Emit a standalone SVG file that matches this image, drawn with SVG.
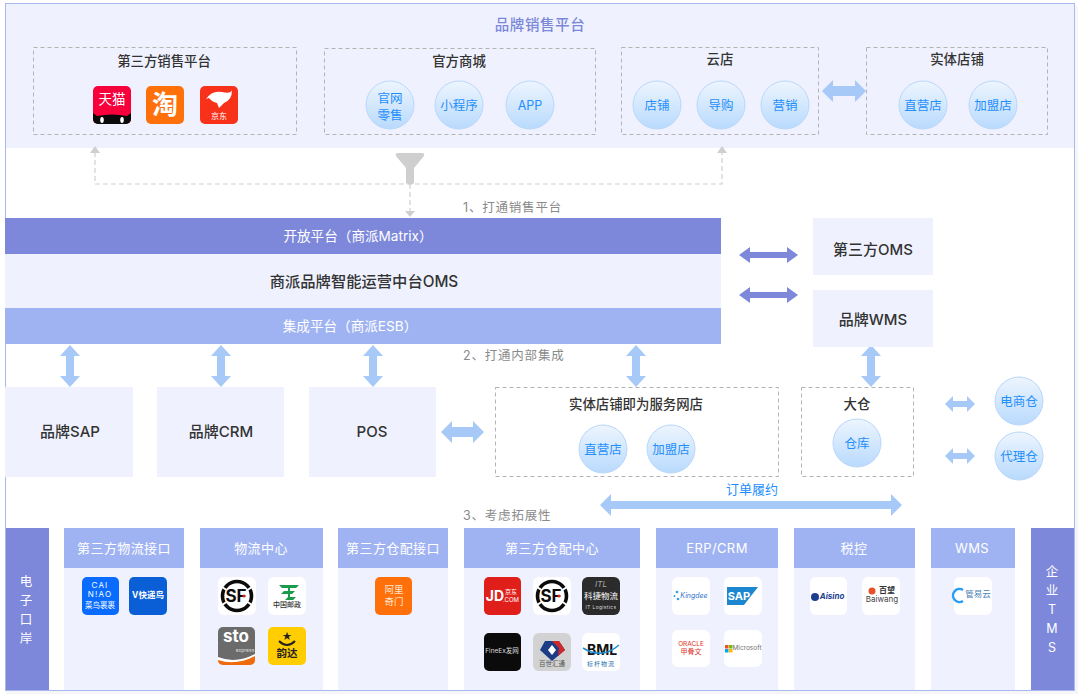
<svg xmlns="http://www.w3.org/2000/svg" width="1080" height="698" viewBox="0 0 1080 698">
<style>
text{font-family:"Inter","Noto Sans CJK SC",sans-serif;text-anchor:middle;dominant-baseline:central;transform:translateY(-1px)}
.t{font-size:13.4px;fill:#333;font-weight:500}
.b{font-size:15px;fill:#333;font-weight:500}
.c{font-size:12.5px;fill:#1f8ffb;transform:none}
.w{font-size:12.5px;fill:#fff;transform:none}
.w2{font-size:13.6px;fill:#fff}
.h{font-size:13px;fill:#fff;letter-spacing:.4px;transform:none}
.n{font-size:12.5px;fill:#8a8a8a;text-anchor:start;letter-spacing:.8px}
.d{fill:none;stroke:#b4b4b4;stroke-width:1;stroke-dasharray:4 3}
.g{fill:none;stroke:#cfcfcf;stroke-width:1.2;stroke-dasharray:5 3}
.la{fill:#a6c9f7}.da{fill:#7d88da}
.cir{fill:url(#cg);stroke:#b9d7fb;stroke-width:1}
.p{fill:#eff2fe}.dk{fill:#7d88da}.md{fill:#9fb3f2}
.ic{fill:#fff}
</style>
<defs>
<linearGradient id="cg" x1="0" y1="0" x2="0" y2="1"><stop offset="0" stop-color="#edf5fe"/><stop offset="1" stop-color="#b9dafd"/></linearGradient>
<clipPath id="tm"><rect x="93" y="86" width="38" height="38" rx="5"/></clipPath>
<clipPath id="sto"><rect x="218" y="627" width="37" height="38" rx="5"/></clipPath>
<g id="sf">
<rect width="38" height="38" rx="6" fill="#fff"/>
<circle cx="19" cy="19" r="14.500" fill="none" stroke="#0b0b0b" stroke-width="3.600"/>
<path d="M4 10L10 14M34 10L28 14M4 28L10 24M34 28L28 24" stroke="#fff" stroke-width="2"/>
<text x="18" y="19.500" font-size="17" font-weight="700" fill="#0b0b0b">SF</text>
<circle cx="26" cy="19" r="1.500" fill="#e2231a"/>
</g>
</defs>
<rect width="1080" height="698" fill="#fff"/>
<rect x="6" y="691" width="1072" height="3" fill="#f6f6f8"/>
<rect x="1075" y="6" width="3" height="688" fill="#f6f6f8"/>
<rect x="5.500" y="3.500" width="1069" height="687" fill="#fff" stroke="#a9b9f0" stroke-width="1"/>

<g id="brand-band">
<rect class="p" x="6" y="4" width="1068" height="144"/>
<text x="540" y="25" font-size="14.500" font-weight="500" fill="#7b88d9" letter-spacing=".6">品牌销售平台</text>
</g>

<g id="third-party-sales">
<rect class="d" x="33.500" y="47.500" width="263" height="87"/>
<text class="t" x="164" y="62">第三方销售平台</text>
<g>
<rect x="93" y="86" width="38" height="38" rx="5" fill="#f7003b"/>
<g clip-path="url(#tm)">
<path d="M93 124V113L97 116Q112 113 127 116L131 113V124Z" fill="#0a0a0a"/>
<ellipse cx="102" cy="120" rx="1.800" ry="3" fill="#fff"/><ellipse cx="122" cy="120" rx="1.800" ry="3" fill="#fff"/>
</g>
<text x="112" y="100" font-size="13.500" fill="#fff">天猫</text>
<rect x="146" y="86" width="38" height="38" rx="5" fill="#ff6f0a"/>
<text x="165" y="105" font-size="26" font-weight="700" fill="#fff">淘</text>
<rect x="200" y="86" width="38" height="38" rx="5" fill="#f8321a"/>
<path d="M206 99Q212 90 222 92Q231 94 232 90Q232 100 224 103L219 108L217 103Q212 102 209 98Z" fill="#fff"/>
<text x="219" y="117" font-size="8" fill="#fff">京东</text>
</g>
</g>

<g id="official-mall">
<rect class="d" x="324.500" y="48.500" width="271" height="86"/>
<text class="t" x="459" y="62">官方商城</text>
<circle class="cir" cx="390" cy="105" r="24"/><text class="c" x="390" y="98">官网</text><text class="c" x="390" y="115">零售</text>
<circle class="cir" cx="459" cy="105" r="24"/><text class="c" x="459" y="105">小程序</text>
<circle class="cir" cx="530" cy="105" r="24"/><text class="c" x="530" y="105">APP</text>
</g>

<g id="cloud-store">
<rect class="d" x="621.500" y="47.500" width="197" height="87"/>
<text class="t" x="720" y="60">云店</text>
<circle class="cir" cx="657" cy="105" r="24"/><text class="c" x="657" y="105">店铺</text>
<circle class="cir" cx="721" cy="105" r="24"/><text class="c" x="721" y="105">导购</text>
<circle class="cir" cx="785" cy="105" r="24"/><text class="c" x="785" y="105">营销</text>
</g>

<g id="physical-store">
<rect class="d" x="866.500" y="47.500" width="181" height="87"/>
<text class="t" x="957" y="60">实体店铺</text>
<circle class="cir" cx="923" cy="105" r="24"/><text class="c" x="923" y="105">直营店</text>
<circle class="cir" cx="993" cy="105" r="24"/><text class="c" x="993" y="105">加盟店</text>
</g>

<g id="funnel"><path d="M396 156Q395 153 398 153H422Q425 153 424 156L414 168V183Q410 186 406 183V168Z" fill="#cfcfcf"/></g>

<g id="connectors">
<path class="g" d="M95 152V184H722V152M410 184V212"/>
<path d="M90 153L95 146L100 153Z" fill="#cfcfcf"/>
<path d="M717 153L722 146L727 153Z" fill="#cfcfcf"/>
<path d="M405 211L410 217L415 211Z" fill="#cfcfcf"/>
<path class="la" d="M822 91L833 80V86H855V80L866 91L855 102V96H833V102Z"/>
<path class="da" d="M739 255L750 247V252H787V247L798 255L787 263V258H750V263Z"/>
<path class="da" d="M739 295L750 287V292H787V287L798 295L787 303V298H750V303Z"/>
<path class="la" d="M70 345L80 356H74V376H80L70 387L60 376H66V356H60Z"/>
<path class="la" d="M221 345L231 356H225V376H231L221 387L211 376H217V356H211Z"/>
<path class="la" d="M373 345L383 356H377V376H383L373 387L363 376H369V356H363Z"/>
<path class="la" d="M636 345L646 356H640V376H646L636 387L626 376H632V356H626Z"/>
<path class="la" d="M871 345L881 356H875V376H881L871 387L861 376H867V356H861Z"/>
<path class="la" d="M441 432L452 421V427H473V421L484 432L473 443V437H452V443Z"/>
<path class="la" d="M945 404L953 396V401H967V396L975 404L967 412V407H953V412Z"/>
<path class="la" d="M945 456L953 448V453H967V448L975 456L967 464V459H953V464Z"/>
<path class="la" d="M600 505L611 494V501H891V494L902 505L891 516V509H611V516Z"/>
</g>
<text class="n" x="463" y="208">1、打通销售平台</text>
<text class="n" x="463" y="356">2、打通内部集成</text>
<text class="n" x="463" y="516">3、考虑拓展性</text>
<text x="752" y="490" font-size="13" fill="#1f8ffb">订单履约</text>

<g id="oms">
<rect class="dk" x="5" y="218" width="716" height="36"/>
<text class="w2" x="358" y="237">开放平台（商派Matrix）</text>
<rect class="p" x="5" y="254" width="716" height="54"/>
<text x="364" y="282" font-size="15.300" font-weight="500" fill="#333">商派品牌智能运营中台OMS</text>
<rect class="md" x="5" y="308" width="716" height="36"/>
<text class="w2" x="350" y="327">集成平台（商派ESB）</text>
</g>
<g id="third-oms"><rect class="p" x="813" y="218" width="120" height="57"/><text class="b" x="873" y="250">第三方OMS</text></g>
<g id="brand-wms"><rect class="p" x="813" y="290" width="120" height="57"/><text class="b" x="873" y="320">品牌WMS</text></g>
<g id="brand-sap"><rect class="p" x="5" y="387" width="128" height="90"/><text class="b" x="70" y="432">品牌SAP</text></g>
<g id="brand-crm"><rect class="p" x="157" y="387" width="127" height="90"/><text class="b" x="221" y="432">品牌CRM</text></g>
<g id="pos"><rect class="p" x="309" y="387" width="127" height="90"/><text class="b" x="372" y="432">POS</text></g>

<g id="service-stores">
<rect class="d" x="495.500" y="387.500" width="283" height="89"/>
<text class="t" x="636" y="405">实体店铺即为服务网店</text>
<circle class="cir" cx="603" cy="449" r="24"/><text class="c" x="603" y="449">直营店</text>
<circle class="cir" cx="671" cy="449" r="24"/><text class="c" x="671" y="449">加盟店</text>
</g>
<g id="big-warehouse">
<rect class="d" x="801.500" y="387.500" width="112" height="89"/>
<text class="t" x="857" y="405">大仓</text>
<circle class="cir" cx="857" cy="443" r="24"/><text class="c" x="857" y="443">仓库</text>
</g>
<g id="ecom-wh"><circle class="cir" cx="1019" cy="401" r="24"/><text class="c" x="1019" y="401">电商仓</text></g>
<g id="agent-wh"><circle class="cir" cx="1019" cy="456" r="24"/><text class="c" x="1019" y="456">代理仓</text></g>

<g id="customs">
<rect class="dk" x="6" y="528" width="43" height="162"/>
<text class="w" x="26" y="581">电</text><text class="w" x="26" y="600">子</text><text class="w" x="26" y="619">口</text><text class="w" x="26" y="638">岸</text>
</g>
<g id="enterprise-tms">
<rect class="dk" x="1031" y="528" width="43" height="162"/>
<text class="w" x="1052" y="571">企</text><text class="w" x="1052" y="590">业</text><text class="w" x="1052" y="609">T</text><text class="w" x="1052" y="628">M</text><text class="w" x="1052" y="647">S</text>
</g>

<g id="logistics-api">
<rect class="p" x="64" y="528" width="120" height="162"/><rect class="md" x="64" y="528" width="120" height="40"/>
<text class="h" x="124" y="548">第三方物流接口</text>
<rect x="82" y="577" width="37" height="38" rx="5" fill="#0a6cff"/>
<text x="100" y="586" font-size="8" fill="#fff" letter-spacing="1.200">CAI</text>
<text x="100" y="595" font-size="8" fill="#fff" letter-spacing="1.200">N!AO</text>
<text x="100" y="606" font-size="7.500" fill="#fff">菜鸟裹裹</text>
<rect x="129" y="577" width="38" height="38" rx="5" fill="#0a5fd6"/>
<text x="148" y="596" font-size="8.500" font-weight="700" fill="#fff">V快递鸟</text>
</g>

<g id="logistics-center">
<rect class="p" x="200" y="528" width="123" height="162"/><rect class="md" x="200" y="528" width="123" height="40"/>
<text class="h" x="261" y="548">物流中心</text>
<use href="#sf" x="218" y="577"/>
<rect class="ic" x="268" y="577" width="38" height="38" rx="6"/>
<path d="M279 585h20l-3 3h-6v3h5l-3 3h-2v3h6l-3 3h-8l3-3v-3h-7l3-3h4v-3h-6z" fill="#1a9b4b"/>
<text x="287" y="605" font-size="7" fill="#333" font-weight="500">中国邮政</text>
<rect x="218" y="627" width="37" height="38" rx="5" fill="#6b6b6b"/>
<g clip-path="url(#sto)"><path d="M218 657Q236 664 255 654V665H218Z" fill="#fff"/><path d="M218 660Q236 666 255 656V665H218Z" fill="#ee6a0a"/></g>
<text x="236" y="637" font-size="17" font-weight="700" fill="#fff">sto</text>
<text x="245" y="651" font-size="5" fill="#ddd">express</text>
<rect x="268" y="627" width="38" height="38" rx="5" fill="#ffcd00"/>
<path d="M279 641Q287 649 295 641" fill="none" stroke="#222" stroke-width="2"/>
<text x="287" y="637" font-size="10" fill="#222">★</text>
<text x="287" y="654" font-size="10.500" font-weight="700" fill="#222">韵达</text>
</g>

<g id="wh-api">
<rect class="p" x="338" y="528" width="110" height="162"/><rect class="md" x="338" y="528" width="110" height="40"/>
<text class="h" x="393" y="548">第三方仓配接口</text>
<rect x="375" y="577" width="37" height="38" rx="5" fill="#ff6f0a"/>
<text x="394" y="590" font-size="9.500" fill="#ffe6d2">阿里</text>
<text x="394" y="602" font-size="9.500" fill="#ffe6d2">奇门</text>
</g>

<g id="wh-center">
<rect class="p" x="464" y="528" width="176" height="162"/><rect class="md" x="464" y="528" width="176" height="40"/>
<text class="h" x="552" y="548">第三方仓配中心</text>
<rect x="484" y="577" width="37" height="38" rx="5" fill="#e01f1b"/>
<text x="495" y="596" font-size="14" font-weight="700" fill="#fff">JD</text>
<text x="511" y="592" font-size="6" fill="#fff">京东</text><text x="511" y="600" font-size="6" fill="#fff">.COM</text>
<use href="#sf" x="533" y="577"/>
<rect x="582" y="577" width="38" height="38" rx="6" fill="#2b2b2b"/>
<text x="601" y="585" font-size="8" font-style="italic" fill="#aaa">ITL</text>
<text x="601" y="597" font-size="8.500" fill="#fff">科捷物流</text>
<text x="601" y="608" font-size="4.800" fill="#ddd" letter-spacing=".4">IT Logistics</text>
<rect x="484" y="633" width="37" height="38" rx="5" fill="#0b0b0b"/>
<text x="502" y="652" font-size="6.500" fill="#ddd">FineEx发网</text>
<rect x="533" y="633" width="38" height="38" rx="6" fill="#d2d2d2"/>
<path d="M545 641H559L565 650L552 661L540 650Z" fill="#1c3d86"/><path d="M552 641H559L565 650L558 656L559 648Z" fill="#d2272a"/><path d="M548 650L552 645L556 650L552 655Z" fill="#fff"/>
<text x="552" y="665" font-size="6.500" fill="#555">百世汇通</text>
<rect class="ic" x="582" y="633" width="38" height="38" rx="6"/>
<text x="602" y="650" font-size="14" font-weight="700" fill="#111">BML</text>
<path d="M583 648Q602 660 619 645" fill="none" stroke="#1c8fd6" stroke-width="1.500"/>
<text x="601" y="664" font-size="6" fill="#1c6fb0" letter-spacing="1">标杆物流</text>
</g>

<g id="erp-crm">
<rect class="p" x="656" y="528" width="122" height="162"/><rect class="md" x="656" y="528" width="122" height="40"/>
<text class="h" x="717" y="548">ERP/CRM</text>
<rect class="ic" x="672" y="577" width="38" height="38" rx="6"/>
<circle cx="677" cy="592" r="1.300" fill="#2a9df4"/><circle cx="674.500" cy="596" r="1" fill="#2a9df4"/><circle cx="678" cy="599" r="1.300" fill="#2a9df4"/>
<text x="694" y="596" font-size="7" font-style="italic" fill="#2f6fd0">Kingdee</text>
<rect class="ic" x="724" y="577" width="38" height="38" rx="6"/>
<path d="M727 587H758L744 605H727Z" fill="#1c87cf"/>
<text x="739" y="597" font-size="11" font-weight="700" fill="#fff">SAP</text>
<rect class="ic" x="672" y="630" width="38" height="37" rx="6"/>
<text x="691" y="645" font-size="6.500" fill="#e0301e">ORACLE</text>
<text x="691" y="652" font-size="7" fill="#e0301e">甲骨文</text>
<rect class="ic" x="724" y="630" width="38" height="37" rx="6"/>
<rect x="725" y="645" width="3.500" height="3.500" fill="#f25022"/><rect x="729" y="645" width="3.500" height="3.500" fill="#7fba00"/><rect x="725" y="649" width="3.500" height="3.500" fill="#00a4ef"/><rect x="729" y="649" width="3.500" height="3.500" fill="#ffb900"/>
<text x="747" y="649" font-size="6.500" fill="#737373">Microsoft</text>
</g>

<g id="tax">
<rect class="p" x="794" y="528" width="121" height="162"/><rect class="md" x="794" y="528" width="121" height="40"/>
<text class="h" x="854" y="548">税控</text>
<rect class="ic" x="810" y="577" width="37" height="38" rx="6"/>
<circle cx="815" cy="597" r="4" fill="#1c3f8f"/>
<text x="832" y="597" font-size="8" font-weight="700" font-style="italic" fill="#1c3f8f">Aisino</text>
<rect class="ic" x="862" y="577" width="38" height="38" rx="6"/>
<circle cx="872" cy="591" r="3.500" fill="#e8502a"/>
<text x="887" y="591" font-size="8" font-weight="700" fill="#333">百望</text>
<text x="882" y="600" font-size="8" fill="#444">Baiwang</text>
</g>

<g id="wms">
<rect class="p" x="931" y="528" width="84" height="162"/><rect class="md" x="931" y="528" width="84" height="40"/>
<text class="h" x="972" y="548">WMS</text>
<rect class="ic" x="954" y="577" width="38" height="38" rx="6"/>
<path d="M963 590A6.500 6.500 0 1 0 963 601" fill="none" stroke="#2a9df4" stroke-width="2.500"/>
<text x="978" y="595" font-size="8.500" fill="#4a7fb5">管易云</text>
</g>
</svg>
